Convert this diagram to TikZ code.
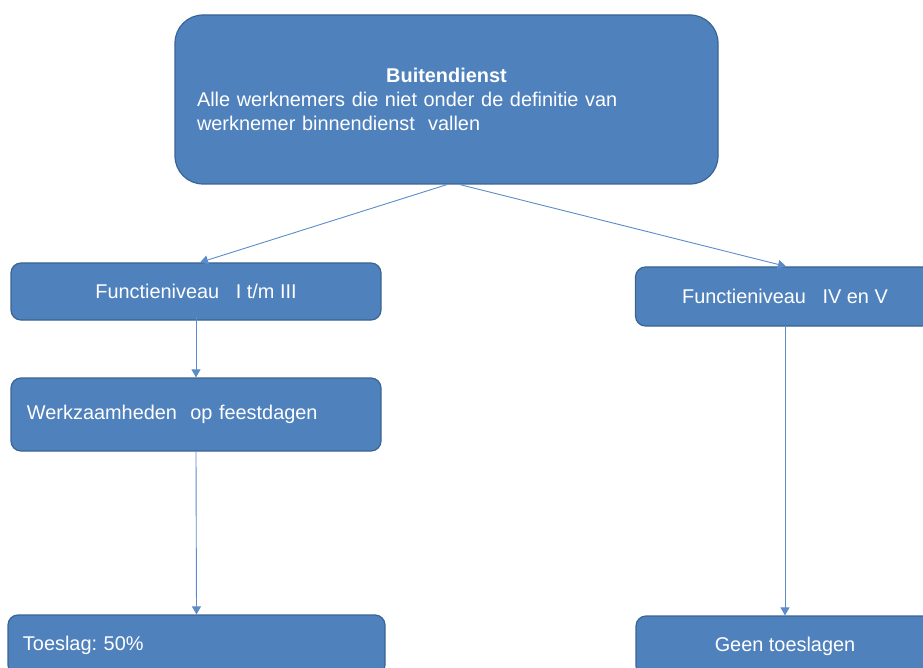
\documentclass[tikz,border=0pt]{standalone}
\usepackage{fontspec}
\setmainfont{Liberation Sans}
\usetikzlibrary{arrows.meta}
\definecolor{boxblue}{HTML}{4F81BD}
\definecolor{boxedge}{HTML}{3A6593}
\definecolor{arrowblue}{HTML}{5B8CC8}
\frenchspacing
\begin{document}
\begin{tikzpicture}[x=1pt,y=-1pt,
  box/.style={rounded corners=10pt, fill=boxblue, draw=boxedge, line width=1.2pt,
    text=white, font=\fontsize{19.9}{24}\selectfont, inner sep=0pt},
  conn/.style={draw=arrowblue, line width=0.9pt, -{Triangle[width=9pt,length=8pt]}}]
\useasboundingbox (0,0) rectangle (923,668);
\begin{scope}
\clip (0,0) rectangle (923,668);
\node[box, rounded corners=28pt, minimum width=543pt, minimum height=169pt,
  text width=499pt, align=left] (top) at (446.5,99.5)
  {{\centering\textbf{Buitendienst}\par}
   Alle werknemers die niet onder de definitie van\\
   werknemer binnendienst~ vallen};
\node[box, minimum width=370pt, minimum height=57pt] (f1) at (196,291.5)
  {Functieniveau~~ I t/m III};
\node[box, minimum width=370pt, minimum height=73pt, text width=338pt, align=left]
  (w) at (196,414.5) {Werkzaamheden~ op feestdagen};
\node[box, minimum width=377pt, minimum height=60pt, text width=347pt, align=left]
  (t) at (196.5,645) {Toeslag: 50\%};
\node[box, minimum width=299pt, minimum height=59pt] (f2) at (785,296.5)
  {Functieniveau~~ IV en V};
\node[box, minimum width=298pt, minimum height=60pt] (g) at (785,646)
  {Geen toeslagen};
\end{scope}
\draw[conn] ([xshift=0.5pt]top.south) -- ([xshift=4pt]f1.north);
\draw[conn] ([xshift=13.5pt]top.south) -- ([xshift=1pt]f2.north);
\draw[conn] ([yshift=4pt]f1.south) -- (w.north);
\draw[conn] (w.south) -- (t.north);
\draw[conn] (f2.south) -- (g.north);
\end{tikzpicture}
\end{document}
